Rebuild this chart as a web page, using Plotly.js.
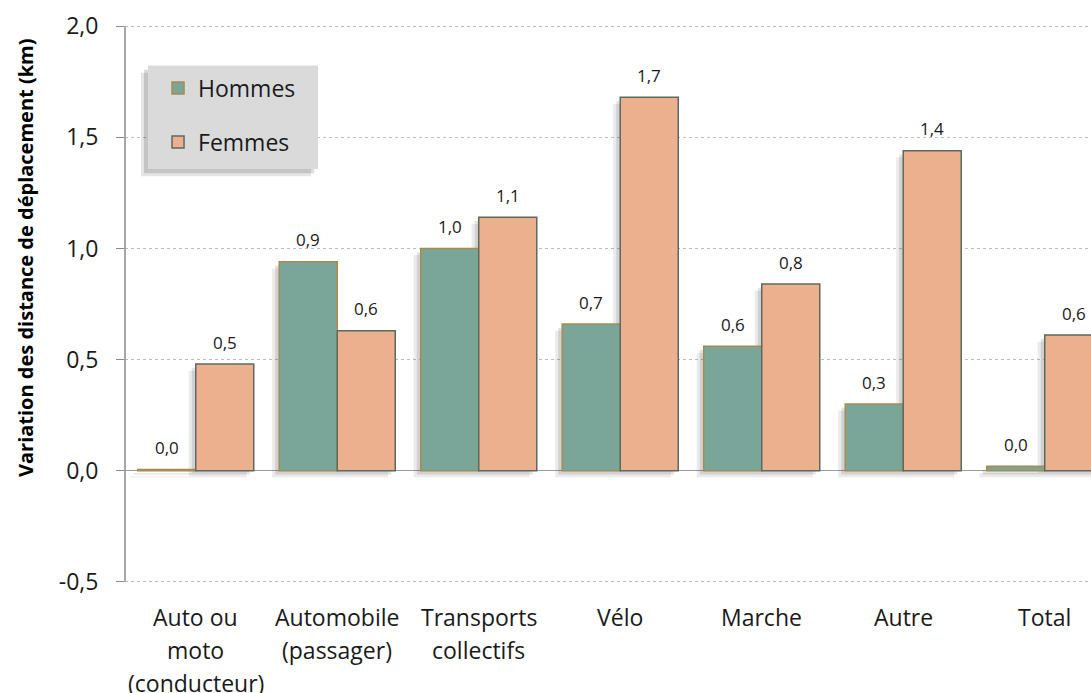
<!DOCTYPE html>
<html>
<head>
<meta charset="utf-8">
<script src="https://cdn.plot.ly/plotly-3.0.1.min.js"></script>
<style>html,body{margin:0;padding:0;background:#fff;}#chart{width:1091px;height:693px;}</style>
</head>
<body>
<div id="chart"></div>
<script>
const categories = ["Auto ou<br>moto<br>(conducteur)", "Automobile<br>(passager)", "Transports<br>collectifs", "Vélo", "Marche", "Autre", "Total"];
const hommes = [0.005, 0.94, 1.0, 0.66, 0.56, 0.30, 0.02];
const femmes = [0.48, 0.63, 1.14, 1.68, 0.84, 1.44, 0.61];
const seriesNames = ["Hommes", "Femmes"];
const yTicks = [-0.5, 0, 0.5, 1.0, 1.5, 2.0];
const yTitle = "Variation des distance de déplacement (km)";

const FONT = "Open Sans, Noto Sans, sans-serif";
const fmt = v => v.toFixed(1).replace('.', ',');
const idx = categories.map((c, i) => i);
const BW = 0.41;

const shadow = (arr, off, dx, db, alpha) => ({type: 'bar', x: idx, y: arr, base: -db, offset: off - dx, width: BW,
  marker: {color: 'rgba(60,60,60,' + alpha + ')', line: {width: 0}}, showlegend: false, hoverinfo: 'none'});

const traces = [
  shadow(hommes, -BW, 0.05, 0.03, 0.10), shadow(hommes, -BW, 0.028, 0.017, 0.14),
  shadow(femmes, 0, 0.05, 0.03, 0.10), shadow(femmes, 0, 0.028, 0.017, 0.14),
  {type: 'bar', name: seriesNames[0], x: idx, y: hommes, offset: -BW, width: BW, legendgroup: 'h',
   marker: {color: '#7aa69a', line: {color: '#a98a4e', width: 1.5}}, hoverinfo: 'none'},
  {type: 'bar', name: seriesNames[1], x: idx, y: femmes, offset: 0, width: BW, legendgroup: 'f',
   marker: {color: '#ecb08f', line: {color: '#5b6a5f', width: 1.5}}, hoverinfo: 'none'}
];

const annotations = [];
categories.forEach((c, i) => {
  c.split('<br>').forEach((line, j) => {
    annotations.push({xref: 'x', yref: 'paper', x: i, y: 0, text: line, showarrow: false,
      yanchor: 'middle', yshift: -(33 + j * 33), font: {family: FONT, size: 23, color: '#1a1a1a'}});
  });
});
[hommes, femmes].forEach((arr, s) => {
  arr.forEach((v, i) => {
    annotations.push({xref: 'x', yref: 'y', x: i, y: v, text: fmt(v), showarrow: false,
      xshift: s === 0 ? -29 : 29, yanchor: 'middle', yshift: 22, font: {family: FONT, size: 17, color: '#1a1a1a'}});
  });
});
annotations.push({xref: 'paper', yref: 'paper', x: 0, y: 0.583, xshift: -115, text: '<b>' + yTitle + '</b>',
  textangle: -90, showarrow: false, font: {family: FONT, size: 20, color: '#000'}});

const layout = {
  width: 1091, height: 693,
  margin: {l: 125, r: 0, t: 24, b: 109},
  paper_bgcolor: '#ffffff', plot_bgcolor: '#ffffff',
  barmode: 'overlay',
  font: {family: FONT, color: '#1a1a1a'},
  xaxis: {type: 'linear', range: [-0.5, 6.327], showticklabels: false, showgrid: false, zeroline: false,
    showline: false, ticks: ''},
  yaxis: {range: [-0.51, 2.01], tickvals: yTicks, ticktext: yTicks.map(fmt), showgrid: true,
    gridcolor: '#bdbdbd', griddash: 'dot', gridwidth: 1,
    zeroline: true, zerolinecolor: '#9a9a9a', zerolinewidth: 1.5,
    showline: false, ticks: 'outside', ticklen: 8, tickcolor: '#8a8a8a',
    ticklabelstandoff: 13, tickfont: {family: FONT, size: 23, color: '#1a1a1a'}},
  showlegend: true,
  legend: {x: 0.0342, y: 0.924, xanchor: 'left', yanchor: 'top', bgcolor: 'rgba(0,0,0,0)',
    traceorder: 'grouped', tracegroupgap: 21, font: {family: FONT, size: 23, color: '#1a1a1a'},
    borderwidth: 0},
  shapes: [
    {type: 'line', xref: 'paper', yref: 'y', x0: 0, x1: 0, y0: -0.5, y1: 2.0, line: {color: '#8a8a8a', width: 1.5}, layer: 'above'},
    {type: 'rect', xref: 'paper', yref: 'paper', x0: 0.0238 - 0.0072, x1: 0.1998 - 0.0072, y0: 0.741 - 0.013, y1: 0.926 - 0.013,
     fillcolor: 'rgba(0,0,0,0.10)', line: {width: 0}, layer: 'above'},
    {type: 'rect', xref: 'paper', yref: 'paper', x0: 0.0238 - 0.0041, x1: 0.1998 - 0.0041, y0: 0.741 - 0.0075, y1: 0.926 - 0.0075,
     fillcolor: 'rgba(0,0,0,0.14)', line: {width: 0}, layer: 'above'},
    {type: 'rect', xref: 'paper', yref: 'paper', x0: 0.0238, x1: 0.1998, y0: 0.741, y1: 0.926,
     fillcolor: '#dadada', line: {width: 0}, layer: 'above'}
  ],
  annotations: annotations
};

Plotly.newPlot('chart', traces, layout, {displayModeBar: false, staticPlot: true});
</script>
</body>
</html>
